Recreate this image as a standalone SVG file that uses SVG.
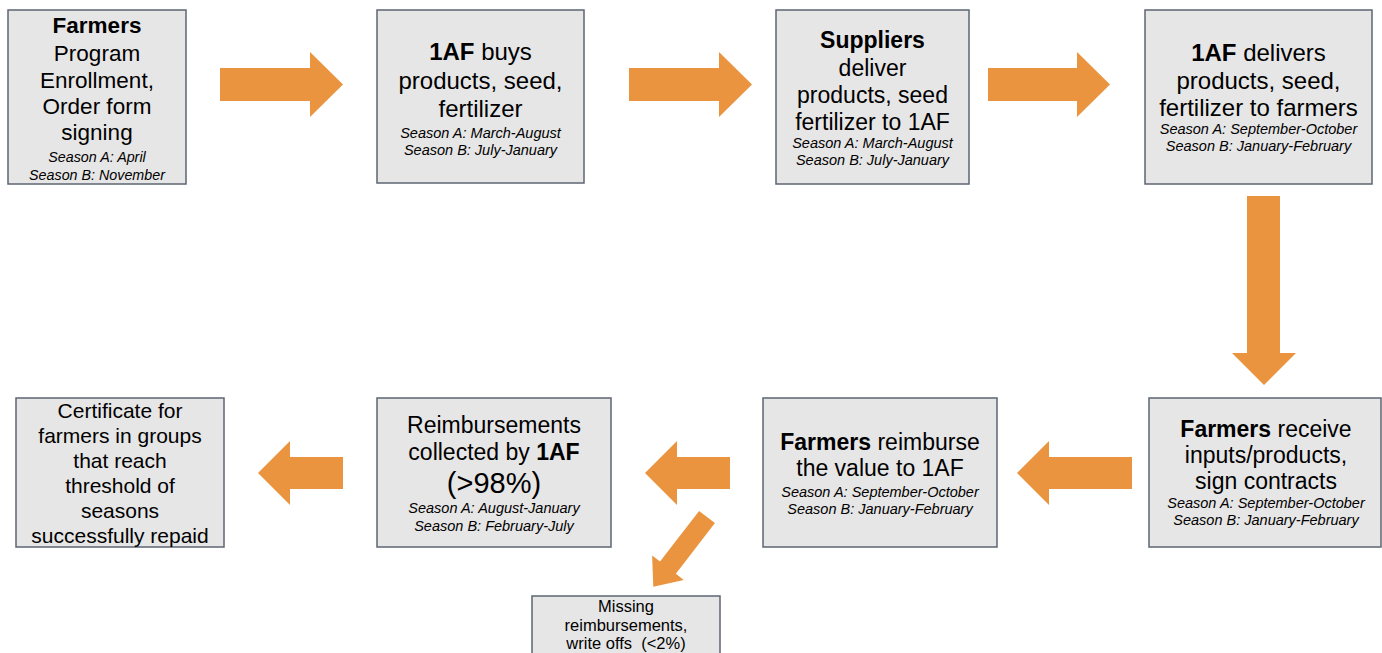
<svg xmlns="http://www.w3.org/2000/svg" width="1382" height="653" viewBox="0 0 1382 653">
<style>
.box{fill:#e7e6e6;stroke:#5e6573;stroke-width:1.5}
.arr{fill:#ea943f}
text{font-family:"Liberation Sans",Arial,sans-serif;fill:#000;text-anchor:middle}
.m{font-size:23px}
.l{font-size:24px}
.i{font-size:14.5px;font-style:italic}
.b{font-weight:bold}
</style>
<rect width="1382" height="653" fill="#ffffff"/>
<g id="connectors">
<polygon class="arr" points="220,68 310,68 310,52 343,84.5 310,117 310,101 220,101"/>
<polygon class="arr" points="629,68 719,68 719,52 752,84.5 719,117 719,101 629,101"/>
<polygon class="arr" points="988,68 1077,68 1077,52 1110,84.5 1077,117 1077,101 988,101"/>
<polygon class="arr" points="1247,196 1280,196 1280,353 1296,353 1264,385 1232,353 1247,353"/>
<polygon class="arr" points="1132,457 1049,457 1049,441 1017,473 1049,505 1049,489 1132,489"/>
<polygon class="arr" points="730,457 677,457 677,441 645,473 677,505 677,489 730,489"/>
<polygon class="arr" points="343,457 290,457 290,441 258,473 290,505 290,489 343,489"/>
<polygon class="arr" transform="translate(707,517) rotate(127.6)" points="0,-10 64,-10 64,-20 88,0 64,20 64,10 0,10"/>
</g>
<g id="n1">
<rect class="box" x="8" y="10" width="178" height="174"/>
<text x="97" y="33" class="m b" style="font-size:22.5px">Farmers</text>
<text x="97" y="61" style="font-size:22.5px">Program</text>
<text x="97" y="88" style="font-size:22.5px">Enrollment,</text>
<text x="97" y="114" style="font-size:22.5px">Order form</text>
<text x="97" y="140" style="font-size:22.5px">signing</text>
<text x="97" y="162" class="i" style="font-size:14.3px">Season A: April</text>
<text x="97" y="180" class="i" style="font-size:14.3px">Season B: November</text>
</g>
<g id="n2">
<rect class="box" x="377" y="10" width="207" height="173"/>
<text x="480.5" y="60" class="l"><tspan class="b">1AF</tspan> buys</text>
<text x="480.5" y="89" class="l">products, seed,</text>
<text x="480.5" y="117" class="l">fertilizer</text>
<text x="480.5" y="138" class="i">Season A: March-August</text>
<text x="480.5" y="155" class="i">Season B: July-January</text>
</g>
<g id="n3">
<rect class="box" x="776" y="10" width="193" height="174"/>
<text x="872.5" y="48" class="m b">Suppliers</text>
<text x="872.5" y="76" class="m">deliver</text>
<text x="872.5" y="103" class="m">products, seed</text>
<text x="872.5" y="130" class="m">fertilizer to 1AF</text>
<text x="872.5" y="148" class="i">Season A: March-August</text>
<text x="872.5" y="165" class="i">Season B: July-January</text>
</g>
<g id="n4">
<rect class="box" x="1145" y="10" width="227" height="174"/>
<text x="1258.5" y="61" class="l"><tspan class="b">1AF</tspan> delivers</text>
<text x="1258.5" y="89" class="l">products, seed,</text>
<text x="1258.5" y="116" class="l">fertilizer to farmers</text>
<text x="1258.5" y="134" class="i">Season A: September-October</text>
<text x="1258.5" y="151" class="i">Season B: January-February</text>
</g>
<g id="n5">
<rect class="box" x="1149" y="398" width="232" height="149"/>
<text x="1266" y="437" class="m"><tspan class="b">Farmers</tspan> receive</text>
<text x="1266" y="463" class="m">inputs/products,</text>
<text x="1266" y="489" class="m">sign contracts</text>
<text x="1266" y="508" class="i">Season A: September-October</text>
<text x="1266" y="525" class="i">Season B: January-February</text>
</g>
<g id="n6">
<rect class="box" x="763" y="398" width="234" height="149"/>
<text x="880" y="450" class="m"><tspan class="b">Farmers</tspan> reimburse</text>
<text x="880" y="476" class="m">the value to 1AF</text>
<text x="880" y="497" class="i">Season A: September-October</text>
<text x="880" y="514" class="i">Season B: January-February</text>
</g>
<g id="n7">
<rect class="box" x="377" y="398" width="234" height="149"/>
<text x="494" y="433" class="m">Reimbursements</text>
<text x="494" y="460" class="m">collected by <tspan class="b">1AF</tspan></text>
<text x="494" y="493" style="font-size:29px">(&gt;98%)</text>
<text x="494" y="513" class="i">Season A: August-January</text>
<text x="494" y="531" class="i">Season B: February-July</text>
</g>
<g id="n8">
<rect class="box" x="16" y="398" width="208" height="149"/>
<text x="120" y="418" style="font-size:21px">Certificate for</text>
<text x="120" y="443" style="font-size:21px">farmers in groups</text>
<text x="120" y="468" style="font-size:21px">that reach</text>
<text x="120" y="493" style="font-size:21px">threshold of</text>
<text x="120" y="518" style="font-size:21px">seasons</text>
<text x="120" y="543" style="font-size:21px">successfully repaid</text>
</g>
<g id="n9">
<rect class="box" x="532" y="596" width="188" height="62"/>
<text x="626" y="612" style="font-size:16.5px">Missing</text>
<text x="626" y="631" style="font-size:16.5px">reimbursements,</text>
<text x="626" y="649" style="font-size:16.5px" xml:space="preserve">write offs  (&lt;2%)</text>
</g>
</svg>
